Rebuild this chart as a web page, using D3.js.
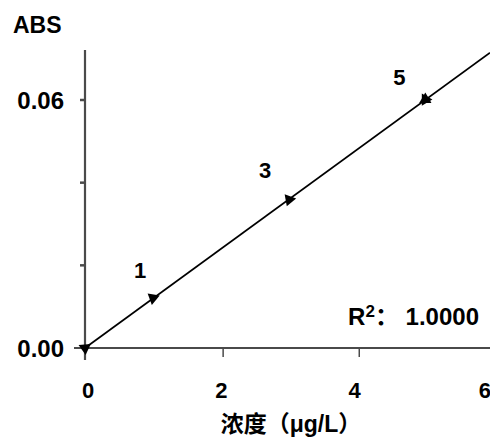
<!DOCTYPE html>
<html>
<head>
<meta charset="utf-8">
<script src="https://cdn.jsdelivr.net/npm/d3@7"></script>
<style>
  body { margin: 0; background: #fff; }
  svg { display: block; font-family: "Liberation Sans", Arial, "Noto Sans CJK SC", sans-serif; font-weight: bold; }
</style>
</head>
<body>
<div id="wrapper"></div>
<script>
// standard points (concentration, absorbance)
const conc = [0, 1, 3, 5]
const absv = [0, 0.0121, 0.0359, 0.0601]
const pointLabels = ["", "1", "3", "5"]
const xTickValues = [0, 2, 4, 6]
const yTickValues = [0, 0.02, 0.04, 0.06]
const yTickLabels = ["0.00", "", "", "0.06"]
const slope = 0.01201
const r2Text = "1.0000"

function drawPlot() {
    let dimensions = {
        width: 490,
        height: 442
    }

    const svg = d3.select('#wrapper')
        .append('svg')
        .attr('width', dimensions.width)
        .attr('height', dimensions.height)

    const xScale = d3.scaleLinear()
        .domain([0, 5.95])
        .range([85, 490])
    const yScale = d3.scaleLinear()
        .domain([0, 0.06])
        .range([348, 100])

    const axisColor = "#4a4a4a"

    //! axes
    svg.append("line")
        .attr("x1", 74).attr("x2", 490)
        .attr("y1", yScale(0)).attr("y2", yScale(0))
        .attr("stroke", axisColor).attr("stroke-width", 2.2)
    svg.append("line")
        .attr("x1", xScale(0)).attr("x2", xScale(0))
        .attr("y1", 50).attr("y2", 360)
        .attr("stroke", axisColor).attr("stroke-width", 2.2)

    // x ticks
    svg.selectAll(".xtick")
        .data(xTickValues.filter(d => d > 0 && d < 6))
        .join("line")
        .attr("x1", d => xScale(d) + 2).attr("x2", d => xScale(d) + 2)
        .attr("y1", yScale(0)).attr("y2", yScale(0) + 9)
        .attr("stroke", axisColor).attr("stroke-width", 1.5)
    svg.selectAll(".xlab")
        .data(xTickValues)
        .join("text")
        .attr("x", d => d === 6 ? 491 : xScale(d) + 3 - d * 1.4)
        .attr("y", 398)
        .attr("text-anchor", d => d === 6 ? "end" : "middle")
        .style("font-size", "22px")
        .text(d => d)

    // y ticks
    svg.selectAll(".ytick")
        .data(yTickValues.filter(d => d > 0))
        .join("line")
        .attr("x1", xScale(0) - 5).attr("x2", xScale(0))
        .attr("y1", d => yScale(d)).attr("y2", d => yScale(d))
        .attr("stroke", axisColor).attr("stroke-width", 2.5)
    svg.selectAll(".ylab")
        .data(yTickValues)
        .join("text")
        .attr("x", 64)
        .attr("y", d => yScale(d) + 9)
        .attr("text-anchor", "end")
        .style("font-size", "24px")
        .text((d, i) => yTickLabels[i])

    svg.append("text")
        .attr("x", 13).attr("y", 33)
        .style("font-size", "23px")
        .text("ABS")

    //! regression line
    const xEnd = xScale.domain()[1]
    svg.append("line")
        .attr("x1", xScale(0)).attr("y1", yScale(0))
        .attr("x2", xScale(xEnd)).attr("y2", yScale(slope * xEnd))
        .attr("stroke", "#000").attr("stroke-width", 1.7)

    //! markers
    const tri = d3.symbol().type(d3.symbolTriangle).size(65)
    svg.selectAll(".pt")
        .data(conc)
        .join("path")
        .attr("d", tri)
        .attr("transform", (d, i) => `translate(${xScale(d)},${yScale(absv[i])}) rotate(${i === 0 ? 55 : 60 + i * 10})`)
        .attr("fill", "#000")
    svg.selectAll(".pt2")
        .data(conc.slice(3))
        .join("path")
        .attr("d", tri)
        .attr("transform", d => `translate(${xScale(d)},${yScale(absv[3])}) rotate(-120)`)
        .attr("fill", "#000")

    const labelOffsets = [[0, 0], [-13, -20], [-24, -22], [-26, -15]]
    svg.selectAll(".plab")
        .data(conc)
        .join("text")
        .attr("x", (d, i) => xScale(d) + labelOffsets[i][0])
        .attr("y", (d, i) => yScale(absv[i]) + labelOffsets[i][1])
        .attr("text-anchor", "middle")
        .style("font-size", "22px")
        .text((d, i) => pointLabels[i])

    //! R squared
    const r2 = svg.append("text")
        .attr("x", 479).attr("y", 325)
        .attr("text-anchor", "end")
        .style("font-size", "24px")
    r2.append("tspan").text("R")
    r2.append("tspan").attr("dy", -8).style("font-size", "17px").text("2")
    r2.append("tspan").attr("dy", 8).text("：\u00a0" + r2Text)

    //! x title
    svg.append("text")
        .attr("x", 291).attr("y", 432)
        .attr("text-anchor", "middle")
        .style("font-size", "23px")
        .text("浓度（μg/L）")

    // clipped glyph at the left edge
    svg.append("text")
        .attr("x", -6).attr("y", 420)
        .style("font-size", "18px")
        .text(")")
}

drawPlot()
</script>
</body>
</html>
